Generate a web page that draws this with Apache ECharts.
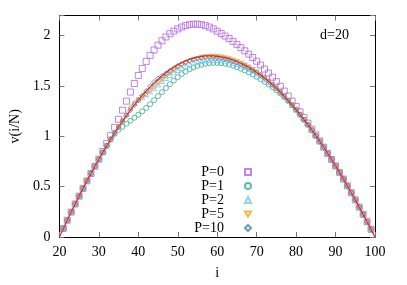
<!DOCTYPE html>
<html><head><meta charset="utf-8">
<script src="https://cdn.jsdelivr.net/npm/echarts@6/dist/echarts.min.js"></script>
<style>html,body{margin:0;padding:0;background:#fff}#c{width:407px;height:285px}</style>
</head><body><div id="c"></div>
<script>
// x positions of the markers (i = 21..99) and of the reference curve (i = 20..100)
const iMarks = [21,22,23,24,25,26,27,28,29,30,31,32,33,34,35,36,37,38,39,40,41,42,43,44,45,46,47,48,49,50,51,52,53,54,55,56,57,58,59,60,61,62,63,64,65,66,67,68,69,70,71,72,73,74,75,76,77,78,79,80,81,82,83,84,85,86,87,88,89,90,91,92,93,94,95,96,97,98,99];
const iCurve = [20,21,22,23,24,25,26,27,28,29,30,31,32,33,34,35,36,37,38,39,40,41,42,43,44,45,46,47,48,49,50,51,52,53,54,55,56,57,58,59,60,61,62,63,64,65,66,67,68,69,70,71,72,73,74,75,76,77,78,79,80,81,82,83,84,85,86,87,88,89,90,91,92,93,94,95,96,97,98,99,100];
// red reference curve
const vCurve = [0,0.084,0.167,0.248,0.328,0.406,0.483,0.558,0.631,0.703,
0.773,0.841,0.907,0.971,1.033,1.093,1.151,1.207,1.260,1.311,
1.360,1.407,1.451,1.492,1.531,1.568,1.602,1.633,1.662,1.688,
1.711,1.732,1.750,1.765,1.778,1.788,1.794,1.799,1.800,1.799,
1.795,1.790,1.782,1.772,1.759,1.744,1.727,1.708,1.687,1.663,
1.637,1.609,1.579,1.547,1.513,1.477,1.438,1.398,1.356,1.311,
1.265,1.217,1.167,1.116,1.062,1.007,0.950,0.892,0.831,0.770,
0.706,0.642,0.576,0.508,0.439,0.369,0.297,0.225,0.151,0.076,0];
// marker series, i = 21..99
const vP0 = [0.084,0.167,0.248,0.328,0.406,0.483,0.558,0.631,0.703,0.773,
0.85,0.93,1.01,1.09,1.17,1.26,1.35,1.44,1.525,1.605,
1.675,1.745,1.805,1.858,1.906,1.95,1.988,2.02,2.046,2.068,
2.086,2.10,2.11,2.115,2.115,2.11,2.10,2.086,2.068,2.045,
2.022,1.997,1.972,1.944,1.914,1.882,1.85,1.817,1.783,1.747,
1.709,1.669,1.629,1.588,1.544,1.498,1.45,1.401,1.35,1.298,
1.243,1.187,1.131,1.072,1.014,0.955,0.892,0.831,0.77,0.706,
0.642,0.576,0.508,0.439,0.369,0.297,0.225,0.151,0.076];
const vP1 = [0.084,0.167,0.248,0.328,0.406,0.483,0.558,0.631,0.703,0.773,
0.841,0.907,0.97,1.025,1.065,1.095,1.125,1.155,1.185,1.215,
1.248,1.283,1.32,1.36,1.40,1.44,1.48,1.518,1.554,1.588,
1.618,1.644,1.666,1.685,1.70,1.712,1.721,1.727,1.73,1.73,
1.728,1.722,1.713,1.702,1.688,1.672,1.655,1.636,1.615,1.592,
1.568,1.543,1.516,1.488,1.458,1.426,1.391,1.353,1.311,1.265,
1.217,1.167,1.116,1.062,1.007,0.95,0.892,0.831,0.77,0.706,
0.642,0.576,0.508,0.439,0.369,0.297,0.225,0.151,0.076];
const vP2 = [0.084,0.167,0.248,0.328,0.406,0.483,0.558,0.631,0.703,0.773,
0.841,0.907,0.971,1.033,1.093,1.16,1.225,1.29,1.335,1.365,
1.39,1.418,1.448,1.48,1.515,1.55,1.58,1.61,1.636,1.66,
1.68,1.70,1.715,1.73,1.74,1.748,1.754,1.758,1.76,1.76,
1.758,1.752,1.744,1.733,1.72,1.705,1.688,1.669,1.648,1.624,
1.598,1.57,1.54,1.508,1.477,1.438,1.398,1.356,1.311,1.265,
1.217,1.167,1.116,1.062,1.007,0.95,0.892,0.831,0.77,0.706,
0.642,0.576,0.508,0.439,0.369,0.297,0.225,0.151,0.076];
const vP5 = [0.084,0.167,0.248,0.328,0.406,0.483,0.558,0.631,0.703,0.773,
0.841,0.907,0.971,1.033,1.093,1.151,1.207,1.27,1.32,1.36,
1.385,1.415,1.452,1.49,1.527,1.562,1.595,1.627,1.656,1.682,
1.705,1.726,1.744,1.76,1.773,1.783,1.79,1.794,1.795,1.792,
1.787,1.779,1.769,1.756,1.741,1.725,1.708,1.687,1.663,1.637,
1.609,1.579,1.547,1.513,1.477,1.438,1.398,1.356,1.311,1.265,
1.217,1.167,1.116,1.062,1.007,0.95,0.892,0.831,0.77,0.706,
0.642,0.576,0.508,0.439,0.369,0.297,0.225,0.151,0.076];
const vP10 = [0.084,0.167,0.248,0.328,0.406,0.483,0.558,0.631,0.703,0.773,
0.841,0.907,0.971,1.033,1.093,1.151,1.207,1.26,1.311,1.36,
1.407,1.451,1.50,1.54,1.575,1.60,1.625,1.652,1.677,1.70,
1.72,1.737,1.752,1.764,1.773,1.78,1.784,1.786,1.786,1.784,
1.779,1.772,1.762,1.75,1.736,1.72,1.702,1.682,1.659,1.637,
1.609,1.579,1.547,1.513,1.477,1.438,1.398,1.356,1.311,1.265,
1.217,1.167,1.116,1.062,1.007,0.95,0.892,0.831,0.77,0.706,
0.642,0.576,0.508,0.439,0.369,0.297,0.225,0.151,0.076];
const seriesNames = ['P=0','P=1','P=2','P=5','P=10'];
const xTickLabels = [20,30,40,50,60,70,80,90,100];
const yTickLabels = [0,0.5,1,1.5,2];
const annotation = 'd=20';

const font = 'Liberation Serif';
const colors = ['#b066e6','#3aae8c','#78c4ee','#e9a52a','#3a86c0'];
const symbols = ['rect','circle','triangle','path://M0,0L10,0L5,8.66Z','diamond'];
const sizes = [6,5,5,5,5];
const vals = [vP0,vP1,vP2,vP5,vP10];

const chart = echarts.init(document.getElementById('c'), null, {renderer:'canvas'});
const axisCommon = {
  axisLine:{show:true,onZero:false,lineStyle:{color:'#000',width:1}},
  axisTick:{show:true,inside:true,length:5,lineStyle:{color:'#777'}},
  splitLine:{show:false}
};
const scatter = seriesNames.map((n,k)=>({
  name:n, type:'scatter', xAxisIndex:0, yAxisIndex:0,
  symbol:symbols[k], symbolSize:sizes[k], symbolKeepAspect:true,
  itemStyle:{color:'rgba(255,255,255,0)', borderColor:colors[k], borderWidth:1},
  data: iMarks.map((x,j)=>[x, vals[k][j]]),
  z: 2+k, animation:false
}));
chart.setOption({
  animation:false,
  grid:{left:58.3, right:32, top:15.6, bottom:44.3},
  xAxis:[
    Object.assign({type:'value',min:20,max:100,interval:10,position:'bottom',
      axisLabel:{fontFamily:font,fontSize:14,color:'#000',margin:8,
        formatter:v=>xTickLabels.includes(v)?String(v):''},
      name:'i',nameLocation:'middle',nameGap:36,
      nameTextStyle:{fontFamily:font,fontSize:14,color:'#000',verticalAlign:'middle'}},axisCommon),
    Object.assign({type:'value',min:20,max:100,interval:10,position:'top',axisLabel:{show:false}},axisCommon)
  ],
  yAxis:[
    Object.assign({type:'value',min:0,max:2.2,interval:0.5,position:'left',
      axisLabel:{fontFamily:font,fontSize:14,color:'#000',margin:9,
        formatter:v=>yTickLabels.includes(v)?String(v):''},
      name:'v(i/N)',nameLocation:'middle',nameGap:43,
      nameTextStyle:{fontFamily:font,fontSize:14,color:'#000',verticalAlign:'middle'}},axisCommon),
    Object.assign({type:'value',min:0,max:2.2,interval:0.5,position:'right',axisLabel:{show:false}},axisCommon)
  ],
  legend:{
    data:seriesNames, orient:'vertical', align:'right', right:155, top:165,
    padding:0, itemGap:0, itemWidth:6, itemHeight:6,
    textStyle:{fontFamily:font,fontSize:14,color:'#000',lineHeight:13.3,padding:[0,16,0,0]}
  },
  graphic:[{type:'text', left:320, top:28, style:{text:annotation, font:'14px "Liberation Serif"', fill:'#000'}}],
  series: scatter.concat([{
    name:'curve', type:'line', xAxisIndex:0, yAxisIndex:0, showSymbol:false, symbol:'none',
    data: iCurve.map((x,j)=>[x, vCurve[j]]),
    lineStyle:{color:'#ff1a1a', width:1.2}, z:10, animation:false
  }])
});
</script></body></html>
